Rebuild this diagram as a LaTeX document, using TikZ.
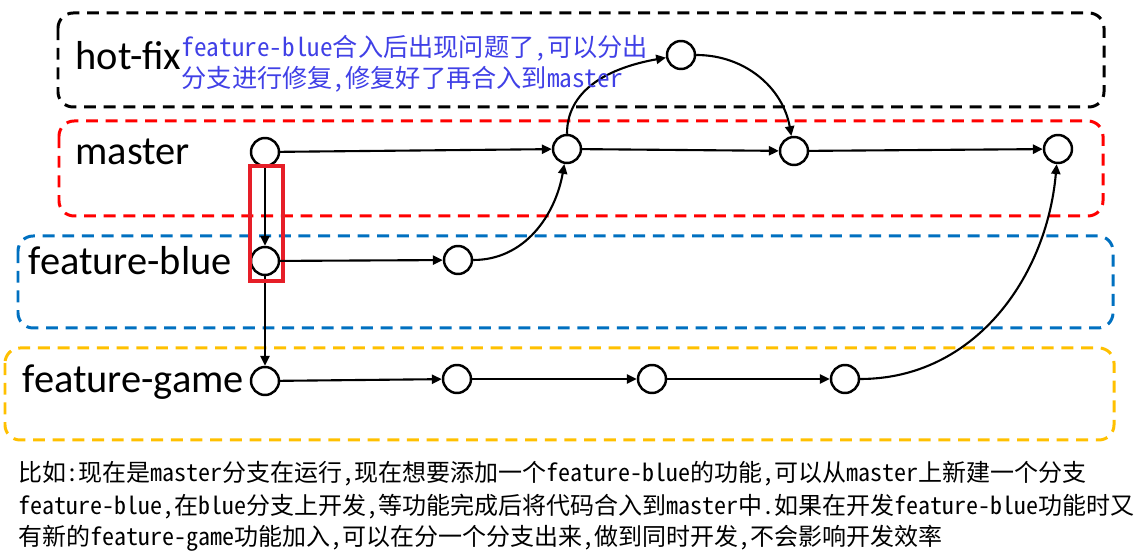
\documentclass[tikz,border=0pt]{standalone}
\usepackage{fontspec}
\setmainfont{Carlito}
\newfontfamily\cjk[RawFeature=+hwid]{Noto Sans CJK SC}
\usetikzlibrary{arrows.meta}

\definecolor{boxred}{RGB}{255,0,0}
\definecolor{boxblue}{RGB}{0,112,192}
\definecolor{boxyellow}{RGB}{255,192,0}
\definecolor{markred}{RGB}{230,30,40}
\definecolor{noteblue}{RGB}{64,64,230}

\tikzset{
  commit/.style={circle, draw, line width=0.7pt, minimum size=0.28cm, inner sep=0pt, fill=white},
  branchbox/.style={line width=0.85pt, rounded corners=4.3pt, dash pattern=on 3.4pt off 2.2pt},
  flow/.style={-{Triangle[length=2.8pt,width=2.6pt]}, line width=0.6pt},
  branchname/.style={anchor=base west, inner sep=0pt, font=\fontsize{11.5}{13}\selectfont},
  remark/.style={anchor=base west, inner sep=0pt, font=\cjk\fontsize{6.83}{8}\selectfont},
  fixremark/.style={anchor=base west, inner sep=0pt, text=noteblue, font=\cjk\fontsize{7.17}{8}\selectfont},
}

\begin{document}
\begin{tikzpicture}
\useasboundingbox (0,0) rectangle (11.37,-5.58);

% branch areas
\draw[branchbox] (0.58,-0.13) rectangle (11.04,-1.07);
\draw[branchbox, boxred] (0.59,-1.21) rectangle (11.03,-2.16);
\draw[branchbox, boxblue] (0.18,-2.36) rectangle (11.13,-3.28);
\draw[branchbox, boxyellow] (0.05,-3.48) rectangle (11.14,-4.40);

\node[branchname] (hotfix) at (0.75,-0.70) {hot-fix};
\node[branchname] (master) at (0.75,-1.645) {master};
\node[branchname] (blue) at (0.28,-2.745) {feature-blue};
\node[branchname] (game) at (0.22,-3.93) {feature-game};

% commits
\node[commit] (m1) at (2.65,-1.52) {};
\node[commit] (m2) at (5.67,-1.49) {};
\node[commit] (m3) at (7.94,-1.51) {};
\node[commit] (m4) at (10.58,-1.49) {};

\node[commit] (h1) at (6.81,-0.55) {};

\node[commit] (b1) at (2.65,-2.61) {};
\node[commit] (b2) at (4.58,-2.60) {};

\node[commit] (g1) at (2.65,-3.81) {};
\node[commit] (g2) at (4.57,-3.79) {};
\node[commit] (g3) at (6.52,-3.79) {};
\node[commit] (g4) at (8.45,-3.79) {};

% master
\draw[flow] (m1) -- (m2);
\draw[flow] (m2) -- (m3);
\draw[flow] (m3) -- (m4);

% branch off
\draw[flow] (m1) -- (b1);
\draw[flow] (b1) -- (g1);
\draw[markred, line width=0.9pt] (2.50,-1.66) rectangle (2.83,-2.81);

% feature-blue
\draw[flow] (b1) -- (b2);
\draw[flow] (b2) to[out=0,in=-100] (m2);

% hot-fix
\draw[flow] (m2) to[out=90,in=190] (h1);
\draw[flow] (h1) to[out=0,in=100] (m3);

% feature-game
\draw[flow] (g1) -- (g2);
\draw[flow] (g2) -- (g3);
\draw[flow] (g3) -- (g4);
\draw[flow] (g4) to[out=0,in=-95] (m4);

\node[fixremark] (fix1) at (1.81,-0.565) {feature-blue合入后出现问题了,可以分出};
\node[fixremark] (fix2) at (1.81,-0.875) {分支进行修复,修复好了再合入到master};

\node[remark] (say1) at (0.18,-4.82) {比如:现在是master分支在运行,现在想要添加一个feature-blue的功能,可以从master上新建一个分支};
\node[remark] (say2) at (0.18,-5.15) {feature-blue,在blue分支上开发,等功能完成后将代码合入到master中.如果在开发feature-blue功能时又};
\node[remark] (say3) at (0.18,-5.46) {有新的feature-game功能加入,可以在分一个分支出来,做到同时开发,不会影响开发效率};

\end{tikzpicture}
\end{document}
